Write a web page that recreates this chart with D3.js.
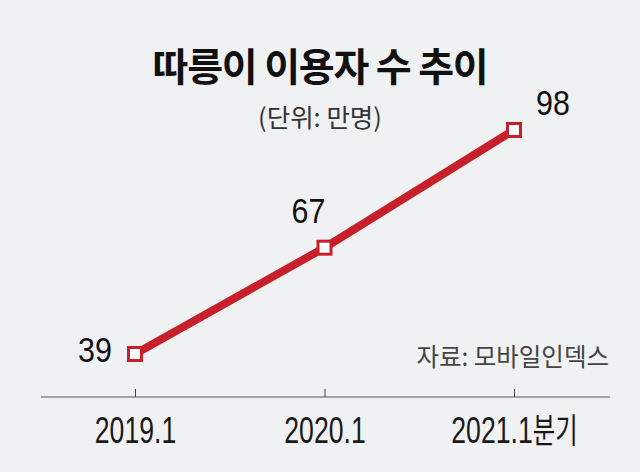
<!DOCTYPE html>
<html><head><meta charset="utf-8">
<script src="https://cdn.jsdelivr.net/npm/d3@7"></script>
<style>
html,body{margin:0;padding:0;background:#f0f1f3;}
svg{display:block;}
</style></head>
<body>
<svg id="c" width="640" height="472"></svg>
<script>
const categories = ["2019.1", "2020.1", "2021.1분기"];
const values = [39, 67, 98];
const title = "따릉이 이용자 수 추이";
const subtitle = "(단위: 만명)";
const source = "자료: 모바일인덱스";

const svg = d3.select("#c");
svg.append("rect").attr("width",640).attr("height",472).attr("fill","#f0f1f3");

const x = d3.scalePoint().domain(categories).range([135, 514]);
const y = d3.scaleLinear().domain([39, 98]).range([354, 130]);

const kr = "'Noto Sans CJK KR', sans-serif";
const num = "'Liberation Sans', Arial, sans-serif";

svg.append("text").attr("x",320).attr("y",81).attr("text-anchor","middle")
  .attr("font-family",kr).attr("font-weight",700).attr("font-size",39)
  .attr("fill","#111").attr("letter-spacing",-1.2).text(title);
svg.append("text").attr("x",320).attr("y",127).attr("text-anchor","middle")
  .attr("font-family",kr).attr("font-size",25.5).attr("fill","#333").text(subtitle);

// axis
const axis = d3.axisBottom(x).tickSize(0).tickFormat(() => "");
const ag = svg.append("g").attr("transform","translate(0,397)");
ag.call(axis);
ag.select(".domain").remove();
ag.selectAll(".tick line").attr("y1",-8).attr("y2",0).attr("stroke","#444");
ag.append("line").attr("x1",41).attr("x2",610).attr("stroke","#555").attr("stroke-width",1);
ag.selectAll(".tick").append("text")
  .attr("y",46).attr("text-anchor","middle").attr("fill","#1a1a1a")
  .attr("font-size",37).attr("font-family",num)
  .attr("transform","scale(0.72,1)")
  .each(function(d){
    const t = d3.select(this);
    const m = d.match(/^([\d.]+)(.*)$/);
    t.append("tspan").text(m[1]);
    if (m[2]) t.append("tspan").attr("font-family",kr).attr("font-size",34).text(m[2]);
  });

// line
svg.append("path").datum(values.map((v,i)=>[categories[i],v]))
  .attr("fill","none").attr("stroke","#c8202a").attr("stroke-width",8)
  .attr("d", d3.line().x(d=>x(d[0])).y(d=>y(d[1])));

svg.selectAll("rect.m").data(values).enter().append("rect").attr("class","m")
  .attr("x",(d,i)=>x(categories[i])-6.5).attr("y",d=>y(d)-6.5)
  .attr("width",13).attr("height",13)
  .attr("fill","#fff").attr("stroke","#c8202a").attr("stroke-width",3);

const labelOff = [[-40,8],[-16,-25],[39,-15]];
svg.selectAll("text.v").data(values).enter().append("text").attr("class","v")
  .attr("transform",(d,i)=>`translate(${x(categories[i])+labelOff[i][0]},${y(d)+labelOff[i][1]}) scale(0.87,1)`)
  .attr("text-anchor","middle").attr("font-family",num).attr("font-size",35)
  .attr("fill","#111").text(d=>d);

svg.append("text").attr("x",609).attr("y",366).attr("text-anchor","end")
  .attr("font-family",kr).attr("font-size",24.5).attr("fill","#444").text(source);
</script>
</body></html>
